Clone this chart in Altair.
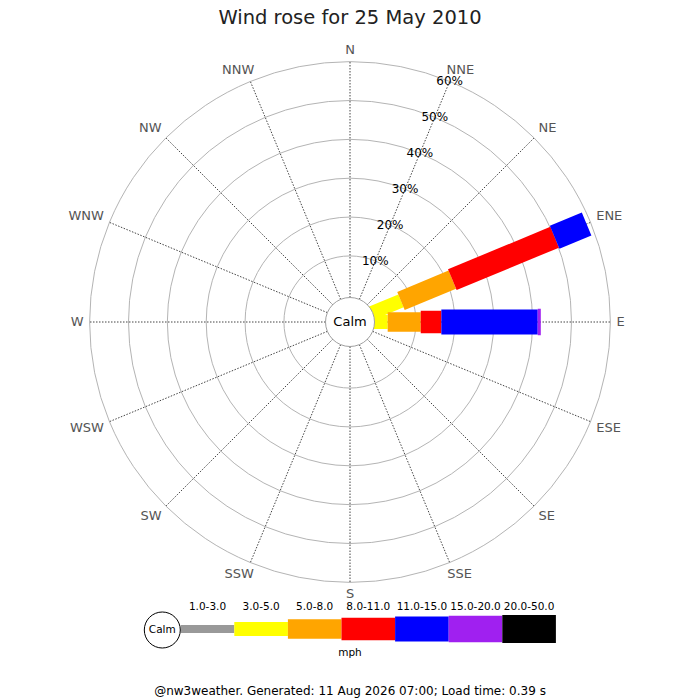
"""Wind rose for 25 May 2010, drawn with Altair layers."""

import math

import altair as alt
import pandas as pd

# --- data -----------------------------------------------------------------
DIRECTIONS = ["N", "NNE", "NE", "ENE", "E", "ESE", "SE", "SSE",
              "S", "SSW", "SW", "WSW", "W", "WNW", "NW", "NNW"]
SPEED_CLASSES = ["1.0-3.0", "3.0-5.0", "5.0-8.0", "8.0-11.0",
                 "11.0-15.0", "15.0-20.0", "20.0-50.0"]
# percent of the day per speed class
ENE_PCT = [0.0, 7.2, 14.3, 28.5, 8.9, 0.0, 0.0]
E_PCT = [0.0, 2.7, 8.5, 5.3, 24.8, 0.8, 0.0]
RING_PCT = [10, 20, 30, 40, 50, 60]
RING_LABELS = ["10%", "20%", "30%", "40%", "50%", "60%"]

TITLE = "Wind rose for 25 May 2010"
CALM_LABEL = "Calm"
UNIT_LABEL = "mph"
FOOTER = "@nw3weather. Generated: 11 Aug 2026 07:00; Load time: 0.39 s"

# --- styles / layout ----------------------------------------------------
_FONT = "DejaVu Sans"
_SPEED_COLORS = ["#999999", "#ffff00", "#ffa500", "#ff0000",
                 "#0000ff", "#a020f0", "#000000"]
_SPEED_WIDTHS = [8, 14, 19.5, 22.5, 25, 26.5, 28]
_RING_COLOR = "#b4b4b4"
_SPOKE_COLOR = "#444444"
_DIR_COLOR = "#555555"

_W, _H = 684, 644           # plot area
_PAD_TOP, _PAD_BOTTOM = 40, 8
_K = 3.886                  # px per percent
_OFFSET = 7.0               # inner radius, in percent units
_CX, _CY = 342, 274         # rose centre in view px
_CALM_R = 24.5
_MAX_PCT = 60
_DIR_R = 266.5              # compass labels are anchored on this circle (px)

_X_SCALE = alt.Scale(domain=[-_CX / _K, (_W - _CX) / _K], nice=False, zero=False)
_Y_SCALE = alt.Scale(domain=[-(_H - _CY) / _K, _CY / _K], nice=False, zero=False)
_COLOR = alt.Color("speed:N", legend=None,
                   scale=alt.Scale(domain=SPEED_CLASSES, range=_SPEED_COLORS))
_SIZE = alt.Size("speed:N", legend=None,
                 scale=alt.Scale(type="ordinal", domain=SPEED_CLASSES, range=_SPEED_WIDTHS))

# legend geometry (view px)
_LEG_X0, _LEG_STEP = 172.7, 53.6
_LEG_Y, _LEG_LABEL_Y = 581, 559
_LEG_CALM_X, _LEG_CALM_R = 154.3, 18

# --- tables ---------------------------------------------------------------
rows = []
for d, values in (("ENE", ENE_PCT), ("E", E_PCT)):
    cum = 0.0
    for speed, pct in zip(SPEED_CLASSES, values):
        if pct > 0:
            rows.append({"dir": d, "di": DIRECTIONS.index(d), "speed": speed,
                         "cum0": cum, "cum1": cum + pct})
        cum += pct
rose_df = pd.DataFrame(rows)
dir_df = pd.DataFrame({"dir": DIRECTIONS, "di": range(len(DIRECTIONS))})
ring_df = pd.DataFrame({"pct": RING_PCT, "label": RING_LABELS})
legend_df = pd.DataFrame({"speed": SPEED_CLASSES, "k": range(len(SPEED_CLASSES))})


def _xy(u_expr: str, prefix: str = "") -> dict:
    """Vega expressions for x/y (in percent units) from a radius and datum.t."""
    return {
        f"x{prefix}": f"({u_expr}) * sin(datum.t)",
        f"y{prefix}": f"({u_expr}) * cos(datum.t)",
    }


def _px_to_x(expr: str) -> str:
    """Turn a view-pixel x expression into percent units on the shared x scale."""
    return f"(({expr}) - {_CX}) / {_K}"


def _count(char: str) -> str:
    return f"(length(datum.dir) - length(replace(datum.dir, regexp('{char}', 'g'), '')))"


def _note(text: str, size: float, x: float, y: float, color: str = "#000000") -> alt.Chart:
    """A single free-standing text placed in view pixels."""
    return alt.Chart(pd.DataFrame({"t": [text]})).mark_text(
        fontSize=size, color=color, baseline="middle"
    ).encode(x=alt.value(x), y=alt.value(y), text="t:N")


# --- layers ---------------------------------------------------------------
rings = alt.Chart(ring_df).transform_calculate(
    cx="0", cy="0"
).mark_arc(
    filled=False, stroke=_RING_COLOR, strokeWidth=1, theta=0, theta2=2 * math.pi
).encode(
    x=alt.X("cx:Q", scale=_X_SCALE, axis=None),
    y=alt.Y("cy:Q", scale=_Y_SCALE, axis=None),
    radius=alt.Radius("pct:Q", stack=None,
                      scale=alt.Scale(type="linear", zero=False, nice=False,
                                      domain=[-_OFFSET, _MAX_PCT],
                                      range=[0, (_MAX_PCT + _OFFSET) * _K])),
    radius2=alt.value(0),
)

spokes = alt.Chart(dir_df).transform_calculate(
    t="datum.di * PI / 8"
).transform_calculate(
    **_xy(f"{_CALM_R / _K}", "0"), **_xy(f"{_OFFSET + _MAX_PCT}", "1")
).mark_rule(color=_SPOKE_COLOR, strokeWidth=1, strokeDash=[1.5, 1.5]).encode(
    x=alt.X("x0:Q", scale=_X_SCALE, axis=None),
    y=alt.Y("y0:Q", scale=_Y_SCALE, axis=None),
    x2="x1:Q",
    y2="y1:Q",
)

bars = alt.Chart(rose_df).transform_calculate(
    t="datum.di * PI / 8",
    u0=f"datum.cum0 == 0 ? 0 : {_OFFSET} + datum.cum0",
    u1=f"{_OFFSET} + datum.cum1",
).transform_calculate(
    **_xy("datum.u0", "0"), **_xy("datum.u1", "1")
).mark_rule(strokeCap="butt").encode(
    x=alt.X("x0:Q", scale=_X_SCALE, axis=None),
    y=alt.Y("y0:Q", scale=_Y_SCALE, axis=None),
    x2="x1:Q",
    y2="y1:Q",
    color=_COLOR,
    size=_SIZE,
)

calm = alt.Chart(pd.DataFrame({"t": [CALM_LABEL]})).transform_calculate(
    cx="0", cy="0"
).mark_arc(
    radius=_CALM_R, theta=0, theta2=2 * math.pi,
    fill="white", stroke="#a0a0a0", strokeWidth=1,
).encode(
    x=alt.X("cx:Q", scale=_X_SCALE, axis=None),
    y=alt.Y("cy:Q", scale=_Y_SCALE, axis=None),
)

calm_text = alt.Chart(pd.DataFrame({"t": [CALM_LABEL]})).transform_calculate(
    cx="0", cy="0"
).mark_text(fontSize=13, color="#000000", baseline="middle").encode(
    x=alt.X("cx:Q", scale=_X_SCALE, axis=None),
    y=alt.Y("cy:Q", scale=_Y_SCALE, axis=None),
    text="t:N",
)

# compass labels: anchored on a circle, pushed outward by up to half their box
dir_labels = alt.Chart(dir_df).transform_calculate(
    t="datum.di * PI / 8",
    w=f"8.2 * length(datum.dir) + 1.5 * {_count('N')} + 4.6 * {_count('W')}",
).transform_calculate(
    x=f"({_DIR_R} * sin(datum.t) + datum.w / 2 * clamp(1.6 * sin(datum.t), -1, 1)) / {_K}",
    y=f"({_DIR_R} * cos(datum.t) + 5.8 * clamp(1.6 * cos(datum.t), -1, 1)) / {_K}",
).mark_text(fontSize=13, color=_DIR_COLOR, baseline="middle").encode(
    x=alt.X("x:Q", scale=_X_SCALE, axis=None),
    y=alt.Y("y:Q", scale=_Y_SCALE, axis=None),
    text="dir:N",
)

pct_labels = alt.Chart(ring_df).transform_calculate(
    t="PI / 8"
).transform_calculate(
    **_xy(f"{_OFFSET} + datum.pct")
).mark_text(fontSize=12, color="#000000", baseline="middle").encode(
    x=alt.X("x:Q", scale=_X_SCALE, axis=None),
    y=alt.Y("y:Q", scale=_Y_SCALE, axis=None),
    text="label:N",
)

# --- speed legend -----------------------------------------------------------
legend_bars = alt.Chart(legend_df).transform_calculate(
    lx0=_px_to_x(f"{_LEG_X0} + datum.k * {_LEG_STEP}"),
    lx1=_px_to_x(f"{_LEG_X0} + (datum.k + 1) * {_LEG_STEP}"),
).mark_rule(strokeCap="butt").encode(
    x=alt.X("lx0:Q", scale=_X_SCALE, axis=None),
    x2="lx1:Q",
    y=alt.value(_LEG_Y),
    color=_COLOR,
    size=_SIZE,
)

legend_text = alt.Chart(legend_df).transform_calculate(
    lxc=_px_to_x(f"{_LEG_X0} + (datum.k + 0.5) * {_LEG_STEP}")
).mark_text(fontSize=10.5, color="#000000", baseline="middle").encode(
    x=alt.X("lxc:Q", scale=_X_SCALE, axis=None),
    y=alt.value(_LEG_LABEL_Y),
    text="speed:N",
)

legend_calm = alt.Chart(pd.DataFrame({"t": [CALM_LABEL]})).mark_arc(
    radius=_LEG_CALM_R, theta=0, theta2=2 * math.pi,
    fill="white", stroke="#000000", strokeWidth=1,
).encode(x=alt.value(_LEG_CALM_X), y=alt.value(_LEG_Y + 1))

title_text = alt.Chart(pd.DataFrame({"t": [TITLE]})).mark_text(
    fontSize=19.5, color="#222222", baseline="alphabetic"
).encode(x=alt.value(_CX), y=alt.value(24 - 8 - _PAD_TOP), text="t:N")

chart = alt.layer(
    rings, spokes, bars, calm, calm_text, dir_labels, pct_labels,
    legend_bars, legend_calm, legend_text,
    _note(CALM_LABEL, 10.5, _LEG_CALM_X, _LEG_Y + 1),
    _note(UNIT_LABEL, 10.5, _CX, 605),
    _note(FOOTER, 12, _CX, 643),
    title_text,
).properties(
    width=_W,
    height=_H,
    padding={"left": 0, "top": _PAD_TOP, "right": 0, "bottom": _PAD_BOTTOM},
    autosize=alt.AutoSizeParams(type="none"),
    background="white",
).configure_view(stroke=None).configure_text(font=_FONT)

chart.save("out.html", embed_options={"renderer": "svg", "actions": False})
